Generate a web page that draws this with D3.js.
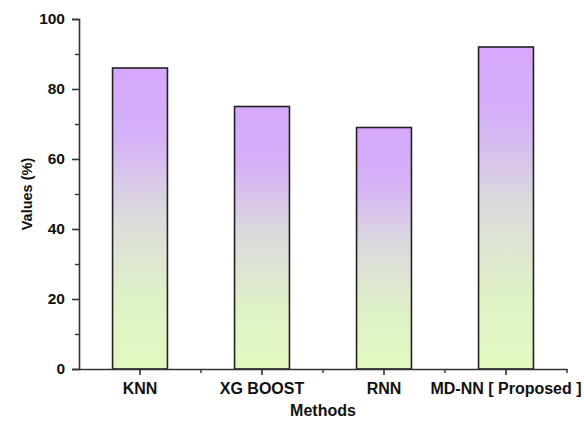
<!DOCTYPE html>
<html>
<head>
<meta charset="utf-8">
<script src="https://cdn.jsdelivr.net/npm/d3@7"></script>
<style>
  html, body { margin: 0; padding: 0; background: #fff; }
  svg { display: block; }
  text { font-family: "Liberation Sans", Arial, sans-serif; font-weight: bold; fill: #111; }
</style>
</head>
<body>
<svg id="chart" width="584" height="421"></svg>
<script>
// Methods compared and their scores (%)
const methods = ["KNN", "XG BOOST", "RNN", "MD-NN [ Proposed ]"];
const values = [86, 75, 69, 92];
const yTicks = [0, 20, 40, 60, 80, 100];
const yMinorTicks = [10, 30, 50, 70, 90];

const svg = d3.select("#chart");
const margin = { left: 79, right: 17, top: 19, bottom: 52 };
const W = 584, H = 421;
const x0 = margin.left, x1 = W - margin.right;
const y0 = H - margin.bottom, y1 = margin.top;

const x = d3.scaleBand().domain(methods).range([x0, x1]).paddingInner(0.55).paddingOuter(0.275);
const y = d3.scaleLinear().domain([0, 100]).range([y0, y1]);

// vertical gradient: lilac at the top, grey through the middle, pale green at the base
const defs = svg.append("defs");
const grad = defs.append("linearGradient")
  .attr("id", "barFill").attr("x1", 0).attr("y1", 0).attr("x2", 0).attr("y2", 1);
grad.append("stop").attr("offset", "0%").attr("stop-color", "#d6a8fe");
grad.append("stop").attr("offset", "22%").attr("stop-color", "#d5b0f8");
grad.append("stop").attr("offset", "50%").attr("stop-color", "#dcdcdc");
grad.append("stop").attr("offset", "78%").attr("stop-color", "#dff2c6");
grad.append("stop").attr("offset", "100%").attr("stop-color", "#e3f9c0");

// bars
svg.append("g").selectAll("rect")
  .data(methods.map((m, i) => ({ m, v: values[i] })))
  .join("rect")
  .attr("x", d => x(d.m))
  .attr("y", d => y(d.v))
  .attr("width", x.bandwidth())
  .attr("height", d => y0 - y(d.v))
  .attr("fill", "url(#barFill)")
  .attr("stroke", "#222")
  .attr("stroke-width", 1.6);

const axisColor = "#333";
const fontFamily = "'Liberation Sans', Arial, sans-serif";

// y axis
const yAxis = svg.append("g").attr("transform", `translate(${x0},0)`)
  .call(d3.axisLeft(y).tickValues(yTicks).tickSize(7).tickPadding(7).tickFormat(d3.format("d")));
yAxis.select(".domain").attr("stroke", axisColor).attr("stroke-width", 1.6);
yAxis.selectAll(".tick line").attr("stroke", axisColor).attr("stroke-width", 1.6);
yAxis.selectAll(".tick text").style("font-size", "15.5px").attr("fill", "#111")
  .style("font-family", fontFamily).style("font-weight", "bold");

svg.append("g").attr("transform", `translate(${x0},0)`)
  .call(d3.axisLeft(y).tickValues(yMinorTicks).tickSize(4).tickFormat(""))
  .call(g => g.select(".domain").remove())
  .selectAll(".tick line").attr("stroke", axisColor).attr("stroke-width", 1.4);

// x axis
const xAxis = svg.append("g").attr("transform", `translate(0,${y0})`)
  .call(d3.axisBottom(x).tickSize(6).tickPadding(8).tickSizeOuter(0));
xAxis.select(".domain").attr("stroke", axisColor).attr("stroke-width", 1.6);
xAxis.selectAll(".tick line").attr("stroke", axisColor).attr("stroke-width", 1.6);
xAxis.selectAll(".tick text").style("font-size", "16px").attr("fill", "#111")
  .style("font-family", fontFamily).style("font-weight", "bold");

// minor ticks between categories
const step = x.step();
const between = methods.map((m, i) => x(m) + x.bandwidth() / 2 + step / 2);
svg.append("g").selectAll("line").data(between).join("line")
  .attr("x1", d => d).attr("x2", d => d)
  .attr("y1", y0).attr("y2", y0 + 4)
  .attr("stroke", axisColor).attr("stroke-width", 1.4);

// axis titles
svg.append("text")
  .attr("x", (x0 + x1) / 2).attr("y", 416)
  .attr("text-anchor", "middle").style("font-size", "16px")
  .text("Methods");

svg.append("text")
  .attr("transform", `translate(32,${(y0 + y1) / 2}) rotate(-90)`)
  .attr("text-anchor", "middle").style("font-size", "14.5px")
  .text("Values (%)");
</script>
</body>
</html>
